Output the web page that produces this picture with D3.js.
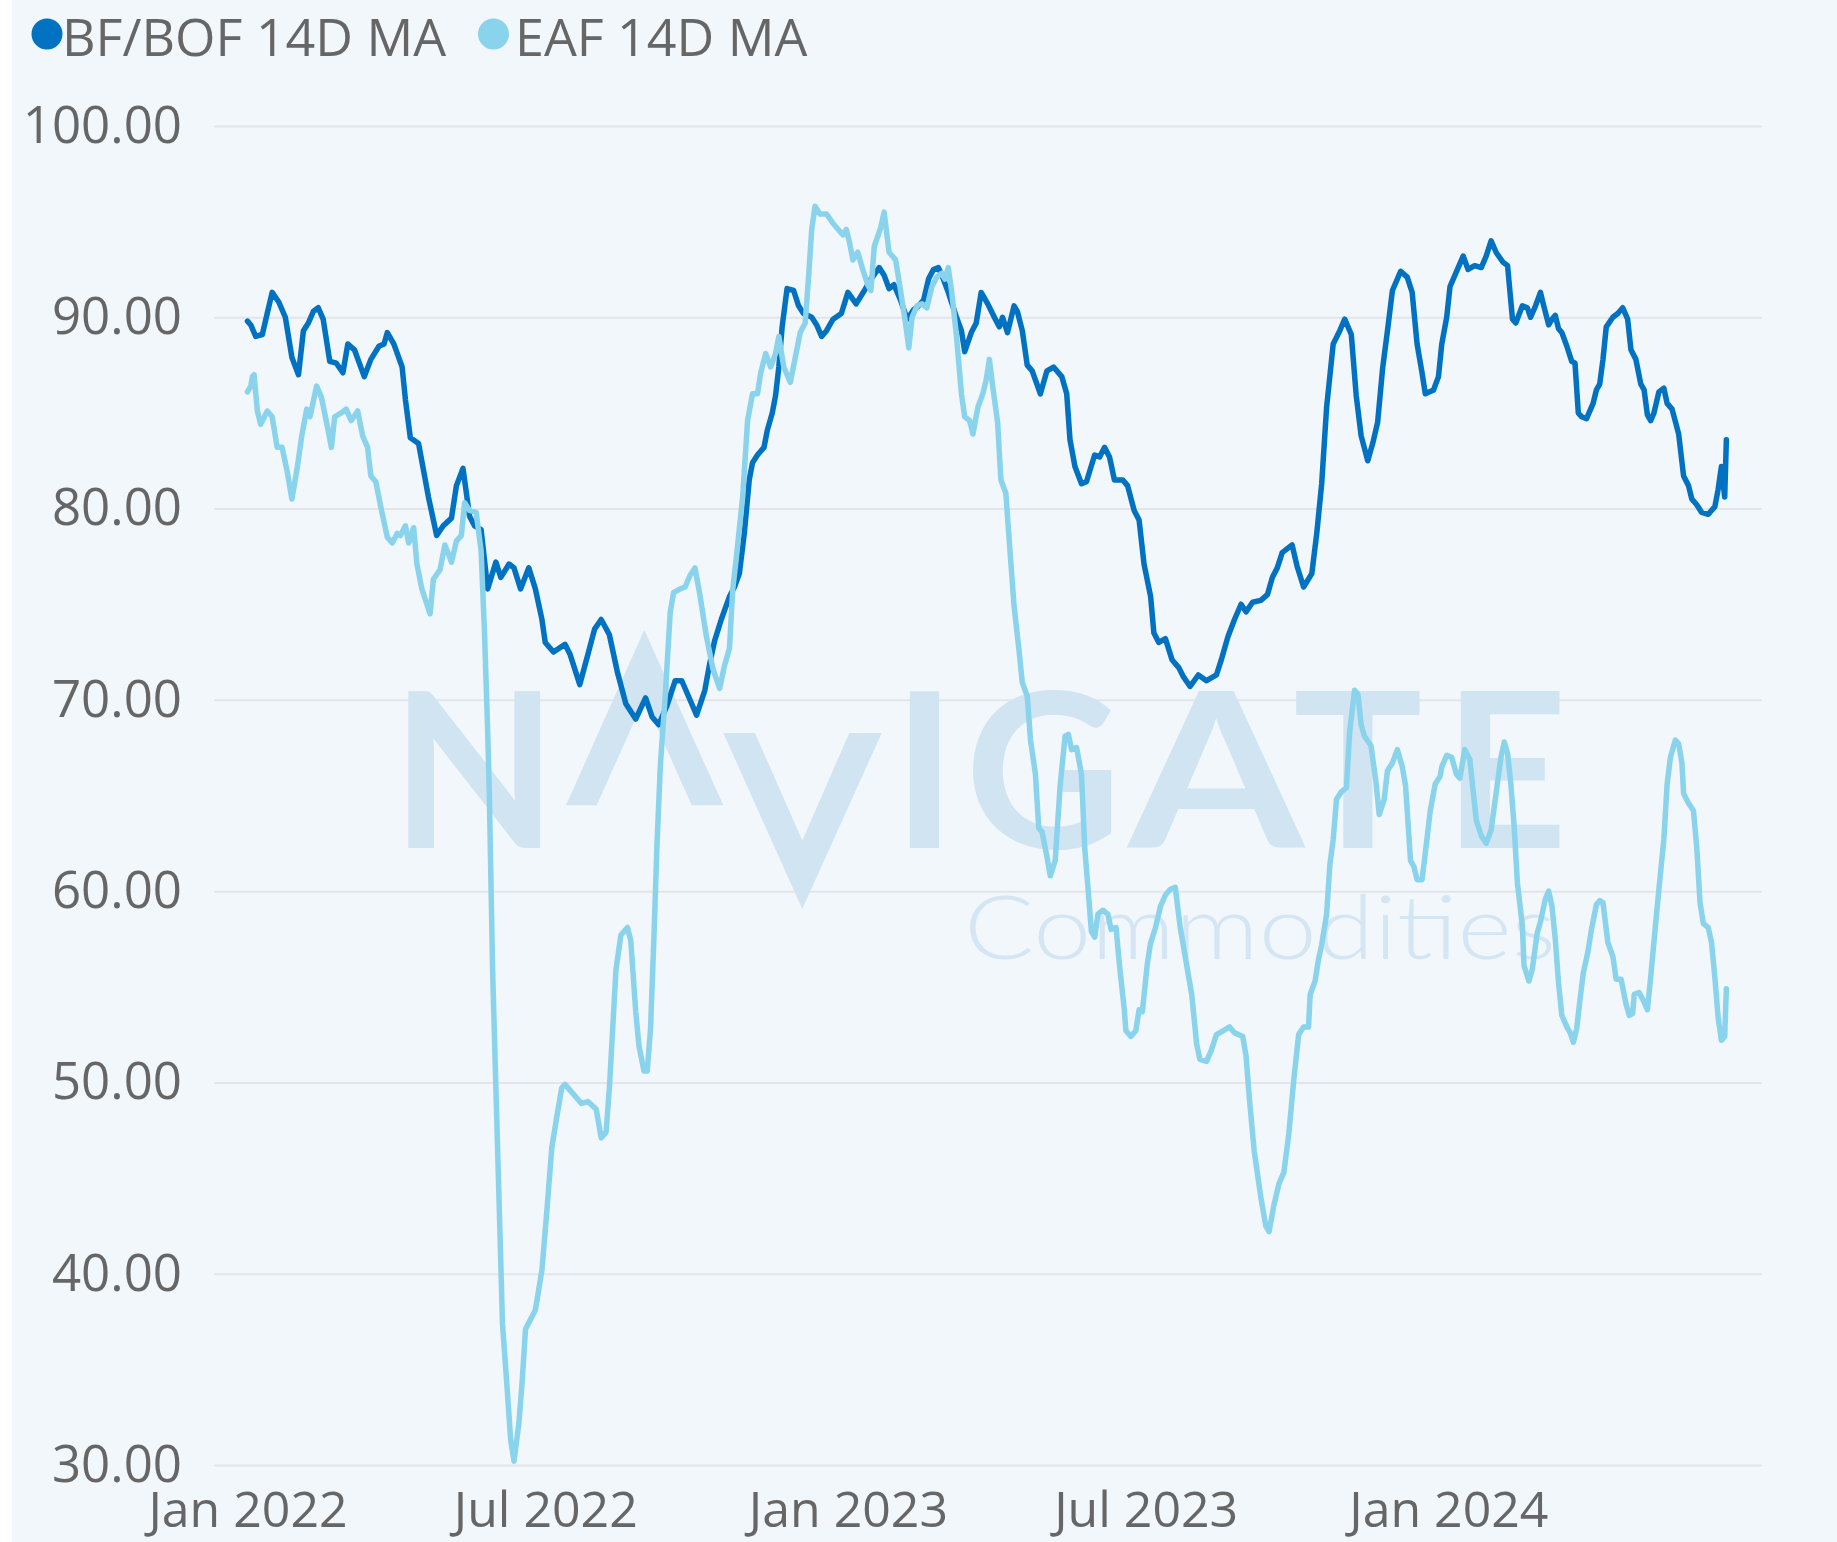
<!DOCTYPE html>
<html><head><meta charset="utf-8">
<script src="https://cdn.jsdelivr.net/npm/d3@7"></script>
<style>
html,body{margin:0;padding:0;background:#ffffff;}
svg{display:block;}
</style></head><body>
<svg id="chart" width="1837" height="1542"></svg>
<script>
// ---------------- DATA ----------------
const seriesNames = ["BF/BOF 14D MA", "EAF 14D MA"];
const seriesColors = ["#0072C1", "#8AD3EC"];
const yTickValues = [30, 40, 50, 60, 70, 80, 90, 100];
const xTickDates = ["2022-01-01", "2022-07-01", "2023-01-01", "2023-07-01", "2024-01-01"];
const xTickLabels = ["Jan 2022", "Jul 2022", "Jan 2023", "Jul 2023", "Jan 2024"];

const bfDates = [
"2022-01-01","2022-01-03","2022-01-06","2022-01-10","2022-01-13","2022-01-16","2022-01-20","2022-01-24","2022-01-28","2022-02-01",
"2022-02-04","2022-02-07","2022-02-10","2022-02-13","2022-02-16","2022-02-20","2022-02-24","2022-02-28","2022-03-03","2022-03-07",
"2022-03-13","2022-03-17","2022-03-22","2022-03-25","2022-03-27","2022-03-31","2022-04-05","2022-04-07","2022-04-10","2022-04-15",
"2022-04-21","2022-04-26","2022-04-30","2022-05-05","2022-05-08","2022-05-12","2022-05-16","2022-05-19","2022-05-23","2022-05-27",
"2022-06-01","2022-06-04","2022-06-09","2022-06-12","2022-06-16","2022-06-21","2022-06-25","2022-06-29","2022-07-01","2022-07-06",
"2022-07-13","2022-07-16","2022-07-22","2022-07-27","2022-07-31","2022-08-04","2022-08-09","2022-08-14","2022-08-19","2022-08-25",
"2022-08-31","2022-09-04","2022-09-08","2022-09-13","2022-09-18","2022-09-22","2022-09-26","2022-10-01","2022-10-06","2022-10-09",
"2022-10-12","2022-10-16","2022-10-21","2022-10-24","2022-10-27","2022-10-30","2022-11-02","2022-11-04","2022-11-07","2022-11-11",
"2022-11-13","2022-11-16","2022-11-18","2022-11-20","2022-11-22","2022-11-25","2022-11-29","2022-12-02","2022-12-05","2022-12-10",
"2022-12-13","2022-12-16","2022-12-19","2022-12-23","2022-12-28","2023-01-01","2023-01-06","2023-01-11","2023-01-15","2023-01-20",
"2023-01-23","2023-01-26","2023-01-29","2023-02-02","2023-02-06","2023-02-10","2023-02-13","2023-02-16","2023-02-19","2023-02-22",
"2023-02-25","2023-02-28","2023-03-03","2023-03-08","2023-03-11","2023-03-13","2023-03-17","2023-03-20","2023-03-23","2023-03-27",
"2023-03-31","2023-04-03","2023-04-05","2023-04-08","2023-04-12","2023-04-14","2023-04-17","2023-04-20","2023-04-23","2023-04-28",
"2023-05-02","2023-05-06","2023-05-11","2023-05-14","2023-05-16","2023-05-19","2023-05-23","2023-05-26","2023-05-31","2023-06-03",
"2023-06-06","2023-06-09","2023-06-12","2023-06-17","2023-06-20","2023-06-24","2023-06-27","2023-06-30","2023-07-04","2023-07-06",
"2023-07-09","2023-07-13","2023-07-17","2023-07-21","2023-07-24","2023-07-28","2023-08-02","2023-08-07","2023-08-13","2023-08-16",
"2023-08-20","2023-08-24","2023-08-28","2023-08-31","2023-09-04","2023-09-09","2023-09-13","2023-09-16","2023-09-19","2023-09-22",
"2023-09-28","2023-10-01","2023-10-05","2023-10-10","2023-10-13","2023-10-16","2023-10-19","2023-10-23","2023-10-27","2023-10-30",
"2023-11-03","2023-11-06","2023-11-09","2023-11-13","2023-11-16","2023-11-19","2023-11-22","2023-11-25","2023-11-28","2023-12-03",
"2023-12-07","2023-12-10","2023-12-13","2023-12-16","2023-12-18","2023-12-23","2023-12-26","2023-12-28","2023-12-31","2024-01-02",
"2024-01-06","2024-01-10","2024-01-13","2024-01-17","2024-01-21","2024-01-24","2024-01-27","2024-01-30","2024-02-03","2024-02-06",
"2024-02-09","2024-02-11","2024-02-15","2024-02-18","2024-02-20","2024-02-23","2024-02-26","2024-02-28","2024-03-02","2024-03-04",
"2024-03-06","2024-03-08","2024-03-10","2024-03-13","2024-03-16","2024-03-18","2024-03-20","2024-03-22","2024-03-25","2024-03-29",
"2024-03-31","2024-04-02","2024-04-04","2024-04-06","2024-04-10","2024-04-13","2024-04-16","2024-04-19","2024-04-21","2024-04-24",
"2024-04-27","2024-04-29","2024-05-01","2024-05-03","2024-05-05","2024-05-08","2024-05-11","2024-05-13","2024-05-16","2024-05-20",
"2024-05-23","2024-05-26","2024-05-28","2024-05-31","2024-06-03","2024-06-07","2024-06-11","2024-06-13","2024-06-15","2024-06-17",
"2024-06-18"];

const bfValues = [
89.8,89.6,89.0,89.1,90.2,91.3,90.8,90.0,87.9,87.0,
89.3,89.7,90.3,90.5,89.9,87.7,87.6,87.1,88.6,88.3,
86.9,87.8,88.5,88.6,89.2,88.6,87.4,85.7,83.7,83.4,
80.6,78.6,79.1,79.5,81.2,82.1,79.6,79.1,78.9,75.8,
77.2,76.4,77.1,76.9,75.8,76.9,75.8,74.2,73.0,72.5,
72.9,72.4,70.8,72.4,73.7,74.2,73.4,71.4,69.8,69.0,
70.1,69.1,68.7,69.7,71.0,71.0,70.2,69.2,70.5,71.9,
73.1,74.2,75.4,75.9,76.6,78.7,81.5,82.4,82.8,83.2,
84.1,85.0,85.9,87.4,89.5,91.5,91.4,90.6,90.2,90.0,
89.6,89.0,89.3,89.9,90.2,91.3,90.7,91.4,92.0,92.6,
92.2,91.5,91.7,90.9,89.9,90.4,90.6,90.9,92.0,92.5,
92.6,92.0,91.3,90.0,89.3,88.2,89.2,89.7,91.3,90.7,
90.0,89.5,90.0,89.2,90.6,90.3,89.3,87.5,87.2,86.0,
87.2,87.4,86.9,86.0,83.6,82.2,81.3,81.4,82.8,82.7,
83.2,82.7,81.5,81.5,81.2,79.9,79.4,77.1,75.4,73.5,
73.0,73.2,72.1,71.7,71.2,70.7,71.3,71.0,71.3,72.1,
73.3,74.2,75.0,74.6,75.1,75.2,75.5,76.4,76.9,77.7,
78.1,77.0,75.9,76.6,78.7,81.3,85.3,88.6,89.3,89.9,
89.1,85.9,83.8,82.5,83.4,84.5,87.3,89.3,91.4,92.4,
92.1,91.3,88.6,87.1,86.0,86.2,86.9,88.6,90.0,91.6,
92.4,93.2,92.5,92.7,92.6,93.2,94.0,93.4,92.9,92.7,
89.9,89.7,90.6,90.5,90.0,90.6,91.3,90.6,89.6,89.9,
90.1,89.4,89.2,88.5,87.7,87.6,85.0,84.8,84.7,85.5,
86.2,86.5,87.8,89.5,90.0,90.2,90.5,89.9,88.3,87.8,
86.5,86.2,84.9,84.6,85.0,86.1,86.3,85.5,85.2,83.9,
81.7,81.2,80.5,80.2,79.8,79.7,80.1,81.0,82.2,80.6,
83.6];

const eafDates = [
"2022-01-01","2022-01-03","2022-01-04","2022-01-05","2022-01-07","2022-01-09","2022-01-13","2022-01-16","2022-01-19","2022-01-22",
"2022-01-25","2022-01-28","2022-01-31","2022-02-03","2022-02-06","2022-02-08","2022-02-12","2022-02-15","2022-02-19","2022-02-21",
"2022-02-23","2022-02-27","2022-03-02","2022-03-05","2022-03-09","2022-03-12","2022-03-15","2022-03-17","2022-03-20","2022-03-23",
"2022-03-27","2022-03-30","2022-04-02","2022-04-04","2022-04-07","2022-04-09","2022-04-12","2022-04-14","2022-04-17","2022-04-22",
"2022-04-24","2022-04-28","2022-05-01","2022-05-05","2022-05-08","2022-05-11","2022-05-13","2022-05-16","2022-05-20","2022-05-23",
"2022-05-25","2022-05-27","2022-05-28","2022-05-30","2022-06-01","2022-06-03","2022-06-05","2022-06-08","2022-06-10","2022-06-12",
"2022-06-15","2022-06-17","2022-06-19","2022-06-22","2022-06-25","2022-06-29","2022-07-02","2022-07-05","2022-07-08","2022-07-11",
"2022-07-13","2022-07-18","2022-07-23","2022-07-27","2022-08-01","2022-08-04","2022-08-07","2022-08-09","2022-08-11","2022-08-13",
"2022-08-16","2022-08-20","2022-08-22","2022-08-25","2022-08-27","2022-08-30","2022-09-01","2022-09-03","2022-09-05","2022-09-07",
"2022-09-09","2022-09-12","2022-09-15","2022-09-17","2022-09-21","2022-09-24","2022-09-27","2022-09-30","2022-10-03","2022-10-07",
"2022-10-11","2022-10-15","2022-10-18","2022-10-21","2022-10-23","2022-10-25","2022-10-29","2022-11-01","2022-11-04","2022-11-07",
"2022-11-09","2022-11-12","2022-11-15","2022-11-18","2022-11-20","2022-11-23","2022-11-27","2022-11-30","2022-12-03","2022-12-06",
"2022-12-08","2022-12-10","2022-12-12","2022-12-15","2022-12-19","2022-12-23","2022-12-26","2022-12-29","2022-12-31","2023-01-02",
"2023-01-04","2023-01-07","2023-01-10","2023-01-13","2023-01-15","2023-01-17","2023-01-21","2023-01-23","2023-01-26","2023-01-30",
"2023-02-02","2023-02-05","2023-02-07","2023-02-09","2023-02-12","2023-02-15","2023-02-18","2023-02-21","2023-02-24","2023-02-27",
"2023-03-01","2023-03-03","2023-03-05","2023-03-08","2023-03-11","2023-03-13","2023-03-16","2023-03-18","2023-03-21","2023-03-24",
"2023-03-26","2023-03-28","2023-03-30","2023-04-02","2023-04-04","2023-04-07","2023-04-09","2023-04-12","2023-04-15","2023-04-17",
"2023-04-20","2023-04-22","2023-04-25","2023-04-27","2023-04-29","2023-05-02","2023-05-04","2023-05-07","2023-05-10","2023-05-13",
"2023-05-15","2023-05-17","2023-05-20","2023-05-23","2023-05-25","2023-05-27","2023-05-29","2023-05-31","2023-06-02","2023-06-05",
"2023-06-08","2023-06-10","2023-06-13","2023-06-15","2023-06-18","2023-06-19","2023-06-22","2023-06-25","2023-06-27","2023-06-29",
"2023-07-02","2023-07-04","2023-07-07","2023-07-10","2023-07-13","2023-07-16","2023-07-19","2023-07-22","2023-07-25","2023-07-29",
"2023-08-01","2023-08-03","2023-08-07","2023-08-10","2023-08-13","2023-08-17","2023-08-21","2023-08-24","2023-08-29","2023-08-31",
"2023-09-02","2023-09-05","2023-09-09","2023-09-12","2023-09-14","2023-09-17","2023-09-20","2023-09-23","2023-09-26","2023-09-29",
"2023-10-02","2023-10-05","2023-10-08","2023-10-09","2023-10-12","2023-10-14","2023-10-16","2023-10-19","2023-10-21","2023-10-23",
"2023-10-25","2023-10-28","2023-10-31","2023-11-02","2023-11-05","2023-11-07","2023-11-09","2023-11-11","2023-11-15","2023-11-18",
"2023-11-20","2023-11-23","2023-11-25","2023-11-28","2023-12-01","2023-12-04","2023-12-06","2023-12-09","2023-12-11","2023-12-13",
"2023-12-16","2023-12-18","2023-12-21","2023-12-24","2023-12-27","2023-12-28","2023-12-31","2024-01-03","2024-01-06","2024-01-08",
"2024-01-11","2024-01-14","2024-01-16","2024-01-18","2024-01-21","2024-01-24","2024-01-27","2024-01-30","2024-02-02","2024-02-04",
"2024-02-06","2024-02-08","2024-02-10","2024-02-12","2024-02-15","2024-02-16","2024-02-19","2024-02-21","2024-02-24","2024-02-26",
"2024-02-29","2024-03-02","2024-03-04","2024-03-06","2024-03-08","2024-03-10","2024-03-13","2024-03-15","2024-03-17","2024-03-19",
"2024-03-21","2024-03-23","2024-03-26","2024-03-28","2024-03-31","2024-04-02","2024-04-04","2024-04-07","2024-04-10","2024-04-12",
"2024-04-15","2024-04-18","2024-04-20","2024-04-22","2024-04-23","2024-04-26","2024-04-29","2024-05-01","2024-05-03","2024-05-06",
"2024-05-08","2024-05-11","2024-05-13","2024-05-15","2024-05-18","2024-05-20","2024-05-22","2024-05-23","2024-05-26","2024-05-29",
"2024-05-31","2024-06-02","2024-06-04","2024-06-07","2024-06-09","2024-06-11","2024-06-13","2024-06-15","2024-06-17","2024-06-18"];

const eafValues = [
86.1,86.4,86.9,87.0,85.1,84.4,85.1,84.8,83.2,83.2,
82.0,80.5,82.0,83.8,85.2,84.8,86.4,85.8,84.1,83.2,
84.8,85.0,85.2,84.6,85.1,83.8,83.2,81.7,81.4,80.1,
78.5,78.2,78.7,78.6,79.1,78.2,79.0,77.1,75.8,74.5,
76.3,76.8,78.1,77.2,78.3,78.6,80.3,79.9,79.8,77.8,
73.7,68.4,65.1,55.9,49.7,43.6,37.4,33.8,31.3,30.2,
32.2,34.4,37.1,37.6,38.1,40.2,43.3,46.6,48.2,49.7,
49.9,49.4,48.9,49.0,48.6,47.1,47.4,49.7,52.8,55.9,
57.7,58.1,57.4,53.7,51.9,50.6,50.6,52.8,57.4,62.6,
66.6,70.3,74.6,75.6,75.8,75.9,76.5,76.9,75.5,73.3,
71.6,70.6,71.8,72.7,75.8,77.3,80.6,84.6,86.0,86.0,
87.1,88.1,87.4,88.1,89.0,87.4,86.6,87.9,89.2,89.7,
92.0,94.6,95.8,95.4,95.4,94.9,94.6,94.3,94.6,93.9,
93.0,93.4,92.5,91.7,91.4,93.7,94.7,95.5,93.4,93.0,
91.4,89.7,88.4,90.0,90.6,90.7,90.5,91.6,92.1,92.3,
92.0,92.6,91.4,89.0,86.0,84.8,84.6,83.9,85.3,86.0,
86.7,87.8,86.4,84.5,81.5,80.8,78.4,74.9,72.6,70.9,
70.2,67.9,66.1,63.3,63.1,61.8,60.8,61.6,65.5,68.1,
68.2,67.4,67.5,66.1,62.2,60.1,57.9,57.6,58.8,59.0,
58.8,58.0,58.1,56.2,53.8,52.7,52.4,52.7,53.8,53.7,
56.2,57.3,58.1,59.2,59.8,60.1,60.2,58.1,56.6,54.6,
52.0,51.2,51.1,51.7,52.5,52.7,52.9,52.6,52.4,51.4,
49.2,46.4,44.0,42.5,42.2,43.6,44.7,45.3,47.3,50.1,
52.5,52.9,52.9,54.6,55.3,56.4,57.2,58.8,61.4,62.7,
64.8,65.2,65.4,68.3,70.5,70.3,68.7,68.1,67.6,65.7,
64.0,64.8,66.3,66.7,67.4,66.5,65.5,61.6,61.3,60.6,
60.6,62.0,64.2,65.6,66.0,66.5,67.1,67.0,66.1,65.9,
67.4,66.9,65.3,63.7,62.9,62.5,63.2,65.1,67.0,67.8,
67.2,65.6,63.4,60.4,58.2,56.1,55.3,55.9,57.8,58.4,
59.6,60.0,59.2,57.5,55.2,53.5,52.9,52.6,52.1,52.8,
54.3,55.7,56.9,58.0,59.3,59.5,59.4,57.3,56.6,55.4,
55.4,54.1,53.5,53.6,54.6,54.7,54.2,53.8,55.5,58.3,
60.1,62.7,65.6,67.0,67.9,67.7,66.7,65.1,64.6,64.2,
62.3,59.4,58.3,58.1,57.3,55.5,53.4,52.2,52.4,54.9];

// ---------------- CHART ----------------
const W = 1837, H = 1542;
const FONT = "'Open Sans', 'Noto Sans', sans-serif";
const TEXT = "#666666";
const parse = d3.utcParse("%Y-%m-%d");
const DAY = 864e5;
const t0 = Date.UTC(2022, 0, 1);

const plot = {left: 214, right: 1762, top: 126, bottom: 1465};
const x = d3.scaleUtc()
  .domain([new Date(t0 - 20.36 * DAY), new Date(t0 + 920.67 * DAY)])
  .range([plot.left, plot.right]);
const y = d3.scaleLinear().domain([30, 100]).range([plot.bottom, plot.top]);

const svg = d3.select("#chart");

// panel background
svg.append("rect").attr("x", 12).attr("y", 0).attr("width", W - 12).attr("height", H)
  .attr("fill", "#F2F7FB");

// gridlines + y labels
const yAxis = d3.axisLeft(y).tickValues(yTickValues).tickFormat(d3.format(".2f"))
  .tickSize(-(plot.right - plot.left)).tickPadding(32);
const gy = svg.append("g").attr("transform", `translate(${plot.left},0)`).call(yAxis);
gy.select(".domain").remove();
gy.selectAll(".tick line").attr("stroke", "#E3E5E8").attr("stroke-width", 2);
gy.selectAll(".tick text").attr("fill", TEXT).style("font-family", FONT).style("font-size", "51px");

// watermark
const wm = svg.append("g").attr("class", "watermark");
const wmColor = "#D0E4F2";
const wmLetters = [
  {t: "N", cx: 474.3}, {t: "I", cx: 924.5}, {t: "G", cx: 1043.3},
  {t: "A", cx: 1216.2, w: 176}, {t: "T", cx: 1357.8}, {t: "E", cx: 1505.5}
];
wmLetters.forEach(L => {
  const t = wm.append("text").attr("x", L.cx).attr("y", 847.5).attr("text-anchor", "middle")
    .attr("fill", wmColor).style("font-family", "Lato, 'Open Sans', sans-serif")
    .style("font-weight", 700).style("font-size", "216px").text(L.t);
  if (L.w) t.attr("textLength", L.w).attr("lengthAdjust", "spacingAndGlyphs");
});
// stylised chevrons of the logo (the "A" and "V")
wm.append("polygon").attr("fill", wmColor)
  .attr("points", "644.3,630 566,805.3 596.7,805.3 644.3,699 691.7,805.3 723.3,805.3");
wm.append("polygon").attr("fill", wmColor)
  .attr("points", "723.3,733 755,733 802.3,840.5 849.3,733 881.7,733 802.3,909");
wm.append("text").attr("x", 964).attr("y", 958.6).attr("fill", "#D4E6F3")
  .style("font-family", "Lato, 'Open Sans', sans-serif").style("font-weight", 300)
  .style("font-size", "88px").attr("textLength", 592).attr("lengthAdjust", "spacingAndGlyphs")
  .text("Commodities");

// x axis labels
const xAxis = d3.axisBottom(x).tickValues(xTickDates.map(parse))
  .tickFormat((d, i) => xTickLabels[i]).tickSize(0).tickPadding(26.8);
const gx = svg.append("g").attr("transform", `translate(0,${plot.bottom})`).call(xAxis);
gx.select(".domain").remove();
gx.selectAll(".tick text").attr("fill", TEXT).style("font-family", FONT).style("font-size", "50px");

// lines
const bfData = bfDates.map((d, i) => ({date: parse(d), v: bfValues[i]}));
const eafData = eafDates.map((d, i) => ({date: parse(d), v: eafValues[i]}));
const line = d3.line().x(d => x(d.date)).y(d => y(d.v));

svg.append("path").datum(bfData).attr("d", line).attr("fill", "none")
  .attr("stroke", seriesColors[0]).attr("stroke-width", 5.5)
  .attr("stroke-linejoin", "round").attr("stroke-linecap", "round");
svg.append("path").datum(eafData).attr("d", line).attr("fill", "none")
  .attr("stroke", seriesColors[1]).attr("stroke-width", 5.5)
  .attr("stroke-linejoin", "round").attr("stroke-linecap", "round");

// legend
const legendItems = [{cx: 47, tx: 62}, {cx: 493.5, tx: 515}];
const lg = svg.append("g").attr("class", "legend");
seriesNames.forEach((name, i) => {
  lg.append("circle").attr("cx", legendItems[i].cx).attr("cy", 34).attr("r", 15.5)
    .attr("fill", seriesColors[i]);
  lg.append("text").attr("x", legendItems[i].tx).attr("y", 56).attr("fill", TEXT)
    .style("font-family", FONT).style("font-size", "52px").text(name);
});
</script>
</body></html>
